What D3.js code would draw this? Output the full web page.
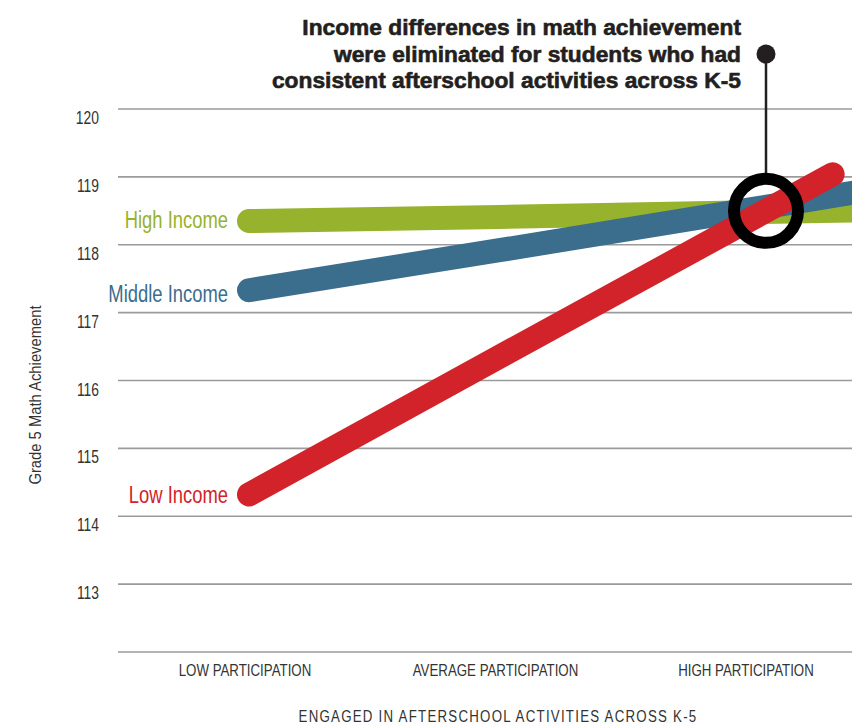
<!DOCTYPE html>
<html>
<head>
<meta charset="utf-8">
<script src="https://cdn.jsdelivr.net/npm/d3@7"></script>
<style>
  body { margin: 0; background: #fff; }
  svg { display: block; }
</style>
</head>
<body>
<div id="chart"></div>
<script>
// participation levels shown on the x axis
const categories = ["LOW PARTICIPATION", "AVERAGE PARTICIPATION", "HIGH PARTICIPATION"];
const yTicks = [113, 114, 115, 116, 117, 118, 119, 120];
const gridValues = [112, 113, 114, 115, 116, 117, 118, 119, 120];

// series values at low / average / high, plus the point where the drawn line runs out past "high"
const seriesNames = ["High Income", "Middle Income", "Low Income"];
const highIncome = [118.35, 118.41, 118.48, 118.51];
const middleIncome = [117.33, 117.92, 118.52, 118.82];
const lowIncome = [114.32, 116.35, 118.37, 119.04];
const lineStops = [0, 1, 2, 2.5];
const lowIncomeStops = [0, 1, 2, 2.33];

const titleLines = [
  "Income differences in math achievement",
  "were eliminated for students who had",
  "consistent afterschool activities across K-5"
];

const width = 852, height = 725;
const margin = { left: 118, right: 0, top: 109, bottom: 73 };
const sans = "'Liberation Sans', Arial, sans-serif";

const svg = d3.select("#chart")
  .append("svg")
  .attr("id", "chart_svg")
  .attr("width", width)
  .attr("height", height);

// squeeze text horizontally so it looks like the condensed face of the original
function squeeze(sel, factor) {
  sel.each(function () {
    const w = this.getComputedTextLength();
    d3.select(this)
      .attr("textLength", w * factor)
      .attr("lengthAdjust", "spacingAndGlyphs");
  });
}

const x = d3.scaleLinear().domain([0, 2]).range([249, 750]);
const y = d3.scaleLinear().domain([112, 120]).range([height - margin.bottom, margin.top]);

// horizontal gridlines
svg.append("g")
  .selectAll("line")
  .data(gridValues)
  .join("line")
  .attr("x1", margin.left)
  .attr("x2", width)
  .attr("y1", d => y(d))
  .attr("y2", d => y(d))
  .attr("stroke", "#9b9b9b")
  .attr("stroke-width", 1.6);

// tick numbers sit just under their gridline
svg.append("g")
  .selectAll("text")
  .data(yTicks)
  .join("text")
  .attr("x", 99)
  .attr("y", d => y(d) + 15)
  .attr("text-anchor", "end")
  .style("font-family", sans)
  .style("font-size", "18px")
  .style("fill", "#333")
  .text(d => d)
  .call(squeeze, 0.77);

// x category labels
svg.append("g")
  .selectAll("text")
  .data(categories)
  .join("text")
  .attr("x", (d, i) => x(i) - 4)
  .attr("y", 676)
  .attr("text-anchor", "middle")
  .style("font-family", sans)
  .style("font-size", "16px")
  .style("fill", "#333")
  .text(d => d)
  .call(squeeze, 0.83);

svg.append("text")
  .attr("x", 498)
  .attr("y", 722)
  .attr("text-anchor", "middle")
  .style("font-family", sans)
  .style("font-size", "16px")
  .style("letter-spacing", "1.5px")
  .style("fill", "#333")
  .text("ENGAGED IN AFTERSCHOOL ACTIVITIES ACROSS K-5")
  .call(squeeze, 0.83);

svg.append("text")
  .attr("transform", "translate(41,395) rotate(-90)")
  .attr("text-anchor", "middle")
  .style("font-family", sans)
  .style("font-size", "17px")
  .style("fill", "#333")
  .text("Grade 5 Math Achievement")
  .call(squeeze, 0.87);

// the three income lines
const series = [
  { name: seriesNames[0], values: highIncome, stops: lineStops, color: "#97b22c", dy: 7.5 },
  { name: seriesNames[1], values: middleIncome, stops: lineStops, color: "#3b6d8d", dy: 11.5 },
  { name: seriesNames[2], values: lowIncome, stops: lowIncomeStops, color: "#d2232a", dy: 8 }
];

const line = d3.line()
  .x(d => x(d[0]))
  .y(d => y(d[1]));

series.forEach(function (s) {
  svg.append("path")
    .datum(d3.zip(s.stops, s.values))
    .attr("d", line)
    .attr("fill", "none")
    .attr("stroke", s.color)
    .attr("stroke-width", 24)
    .attr("stroke-linecap", "round");

  svg.append("text")
    .attr("x", x(0) - 21)
    .attr("y", y(s.values[0]) + s.dy)
    .attr("text-anchor", "end")
    .style("font-family", sans)
    .style("font-size", "23px")
    .style("fill", s.color)
    .text(s.name)
    .call(squeeze, 0.8);
});

// callout: ring where the lines meet, stem and dot
const meetX = 766, meetValue = 118.5;
svg.append("line")
  .attr("x1", meetX)
  .attr("x2", meetX)
  .attr("y1", 54)
  .attr("y2", y(meetValue) - 30)
  .attr("stroke", "#231f20")
  .attr("stroke-width", 2.5);

svg.append("circle")
  .attr("cx", meetX)
  .attr("cy", 54)
  .attr("r", 9.5)
  .attr("fill", "#231f20");

svg.append("circle")
  .attr("cx", meetX)
  .attr("cy", y(meetValue))
  .attr("r", 32)
  .attr("fill", "none")
  .attr("stroke", "#000")
  .attr("stroke-width", 12);

svg.append("g")
  .selectAll("text")
  .data(titleLines)
  .join("text")
  .attr("x", 741)
  .attr("y", (d, i) => 35 + i * 26.5)
  .attr("text-anchor", "end")
  .style("font-family", sans)
  .style("font-weight", "bold")
  .style("font-size", "21.5px")
  .style("fill", "#231f20")
  .style("stroke", "#231f20")
  .style("stroke-width", 0.6)
  .text(d => d)
  .call(squeeze, 1.058);
</script>
</body>
</html>
